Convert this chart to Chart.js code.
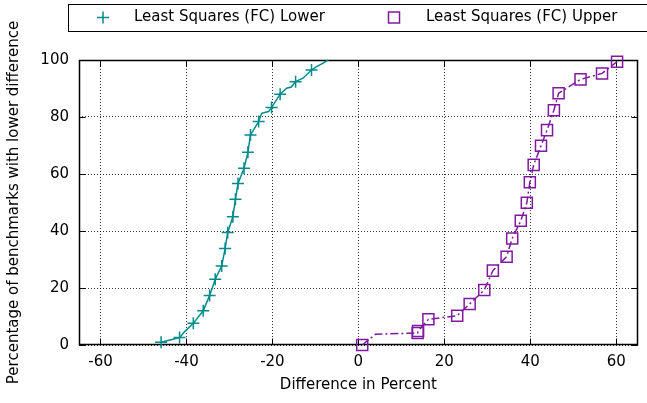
<!DOCTYPE html>
<html><head><meta charset="utf-8">
<script src="https://cdn.jsdelivr.net/npm/chart.js@4/dist/chart.umd.min.js"></script>
<style>html,body{margin:0;padding:0;background:#fff;}</style>
</head><body>
<canvas id="c" width="647" height="403"></canvas>
<script>
// ---- data ----
const xTicks = [-60, -40, -20, 0, 20, 40, 60];
const yTicks = [0, 20, 40, 60, 80, 100];
const xTitle = 'Difference in Percent';
const yTitle = 'Percentage of benchmarks with lower difference';
const lowerLabel = 'Least Squares (FC) Lower';
const upperLabel = 'Least Squares (FC) Upper';

// marker points (lower series)
const lowerMarkX = [-45.9, -41.6, -38.4, -36.1, -34.6, -33.3, -31.8, -31.0, -30.4, -29.2, -28.6, -28.0, -26.6, -25.7, -25.1, -23.2, -20.2, -18.2, -14.6, -10.9];
const lowerMarkY = [1.0, 2.6, 7.6, 12.0, 17.4, 23.1, 27.7, 33.9, 39.5, 45.0, 51.1, 56.7, 62.0, 67.6, 73.7, 78.4, 83.3, 88.0, 92.4, 96.5];
// extra line-only points (lower series)
const lowerBendX = [-40.4, -22.5, -20.9, -16.7, -15.6, -12.9, -9.8, -8.3, -7.0];
const lowerBendY = [4.7, 81.3, 81.9, 90.1, 90.5, 93.6, 97.6, 98.8, 100];

// marker points (upper series)
const upperMarkX = [0.9, 13.8, 13.9, 16.3, 23.0, 25.9, 29.3, 31.3, 34.5, 35.8, 37.8, 39.2, 39.9, 40.8, 42.5, 43.9, 45.5, 46.6, 51.7, 56.7, 60.2];
const upperMarkY = [0.0, 4.2, 4.9, 9.0, 10.3, 14.4, 19.3, 26.1, 31.0, 37.4, 43.6, 49.9, 57.1, 63.2, 69.9, 75.4, 82.4, 88.3, 93.2, 95.3, 99.4];
// extra line-only points (upper series)
const upperBendX = [4.0];
const upperBendY = [3.8];

// ---- build library tables ----
const pts = (xs, ys) => xs.map((x, i) => ({x: x, y: ys[i]}));
const merged = (a, b) => a.concat(b).sort((p, q) => p.y - q.y || p.x - q.x);

const TEAL = '#008b8b';
const PURPLE = '#7f1a9f';
const FONT = {family: 'DejaVu Sans', size: 15};

const frame = {
  id: 'frame',
  beforeDatasetsDraw(chart) {
    const {ctx, chartArea: a, scales} = chart;
    ctx.save();
    ctx.strokeStyle = '#000';
    ctx.lineWidth = 1;
    ctx.setLineDash([]);
    const L = Math.round(a.left) + 0.5, R = Math.round(a.right) - 0.5;
    const T = Math.round(a.top) + 0.5, B = Math.round(a.bottom) - 0.5;
    ctx.beginPath();
    const tl = 6;
    scales.x.ticks.forEach(t => {
      const px = Math.round(scales.x.getPixelForValue(t.value)) + 0.5;
      ctx.moveTo(px, B); ctx.lineTo(px, B - tl);
      ctx.moveTo(px, T); ctx.lineTo(px, T + tl);
    });
    scales.y.ticks.forEach(t => {
      const py = Math.round(scales.y.getPixelForValue(t.value)) + 0.5;
      ctx.moveTo(L, py); ctx.lineTo(L + tl, py);
      ctx.moveTo(R, py); ctx.lineTo(R - tl, py);
    });
    ctx.stroke();
    ctx.lineWidth = 1.5;
    ctx.strokeRect(L, T, R - L, B - T);
    ctx.restore();
  }
};

const legendBox = {
  id: 'legendBox',
  afterDraw(chart) {
    const {ctx} = chart;
    ctx.save();
    ctx.setLineDash([]);
    ctx.strokeStyle = '#000';
    ctx.lineWidth = 1;
    ctx.strokeRect(68.5, 4.5, 700, 27);
    const cy = 17.5;
    ctx.font = FONT.size + 'px "' + FONT.family + '"';
    ctx.fillStyle = '#000';
    ctx.textBaseline = 'middle';
    ctx.textAlign = 'left';
    // lower entry
    ctx.strokeStyle = TEAL; ctx.lineWidth = 1.5;
    ctx.beginPath();
    ctx.moveTo(103, cy - 6); ctx.lineTo(103, cy + 6);
    ctx.moveTo(97, cy); ctx.lineTo(109, cy);
    ctx.stroke();
    ctx.fillText(chart.data.datasets[1].label, 134, cy);
    // upper entry
    ctx.strokeStyle = PURPLE;
    ctx.strokeRect(388.5, cy - 5.5, 11, 11);
    ctx.fillText(chart.data.datasets[3].label, 426, cy);
    ctx.restore();
  }
};

new Chart(document.getElementById('c'), {
  type: 'scatter',
  data: {
    datasets: [
      {label: lowerLabel + ' line', data: merged(pts(lowerMarkX, lowerMarkY), pts(lowerBendX, lowerBendY)),
       showLine: true, borderColor: TEAL, borderWidth: 1.5, pointRadius: 0, tension: 0, clip: false},
      {label: lowerLabel, data: pts(lowerMarkX, lowerMarkY), showLine: false,
       pointStyle: 'cross', pointRadius: 6, pointBorderWidth: 1.5, borderColor: TEAL, pointBorderColor: TEAL, clip: false},
      {label: upperLabel + ' line', data: merged(pts(upperMarkX, upperMarkY), pts(upperBendX, upperBendY)),
       showLine: true, borderColor: PURPLE, borderWidth: 1.5, borderDash: [8, 3, 2, 3], pointRadius: 0, tension: 0, clip: false},
      {label: upperLabel, data: pts(upperMarkX, upperMarkY), showLine: false,
       pointStyle: 'rect', pointRadius: 7.8, pointBorderWidth: 1.5, borderColor: PURPLE, pointBorderColor: PURPLE,
       backgroundColor: 'rgba(0,0,0,0)', pointBackgroundColor: 'rgba(0,0,0,0)', clip: false}
    ]
  },
  options: {
    responsive: false,
    animation: false,
    devicePixelRatio: 1,
    layout: {padding: {left: 0, right: 5, top: 60, bottom: 0}},
    plugins: {legend: {display: false}, tooltip: {enabled: false}},
    scales: {
      x: {
        type: 'linear', min: -65, max: 65,
        afterBuildTicks: s => { s.ticks = xTicks.map(v => ({value: v})); },
        afterFit: s => { s.height = 58; s.paddingLeft = 0; s.paddingRight = 0; },
        grid: {color: 'rgba(0,0,0,0.8)', lineWidth: 1, drawTicks: false},
        border: {display: false, dash: [1, 2]},
        ticks: {padding: 8, color: '#000', font: FONT},
        title: {display: true, text: xTitle, color: '#000', font: FONT, padding: {top: 0, bottom: 9}}
      },
      y: {
        type: 'linear', min: 0, max: 100,
        afterBuildTicks: s => { s.ticks = yTicks.map(v => ({value: v})); },
        afterFit: s => { s.width = 79; s.paddingTop = 0; s.paddingBottom = 0; },
        grid: {color: 'rgba(0,0,0,0.8)', lineWidth: 1, drawTicks: false},
        border: {display: false, dash: [1, 2]},
        ticks: {padding: 10, color: '#000', font: FONT},
        title: {display: true, text: yTitle, color: '#000', font: FONT, padding: {top: 5, bottom: 0}}
      }
    }
  },
  plugins: [frame, legendBox]
});
</script>
</body></html>
